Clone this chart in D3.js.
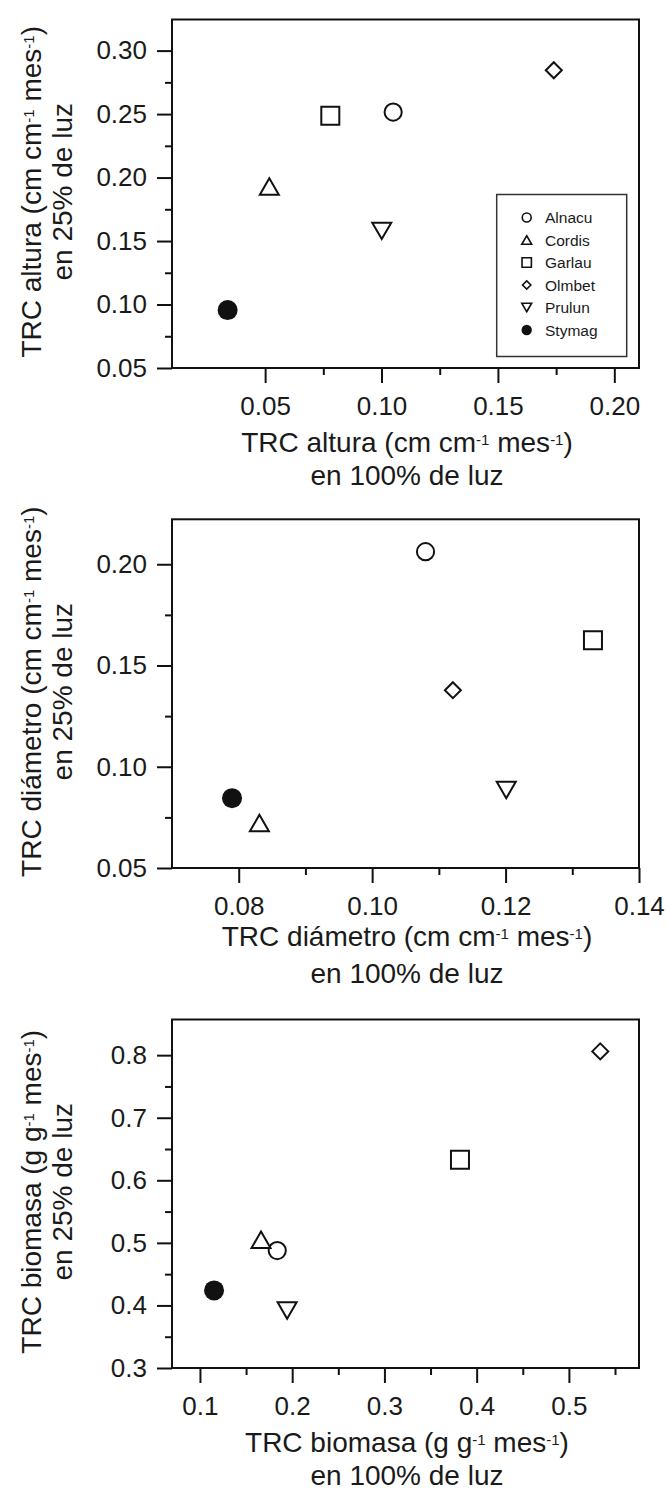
<!DOCTYPE html>
<html>
<head>
<meta charset="utf-8">
<script src="https://cdn.jsdelivr.net/npm/d3@7"></script>
<style>
html, body { margin: 0; padding: 0; background: #fff; }
svg text { font-family: "Liberation Sans", Arial, Helvetica, sans-serif; fill: #1a1a1a; white-space: pre; }
</style>
</head>
<body>
<svg id="chart" width="668" height="1492"></svg>
<script>
// ---------------- DATA ----------------
const species = ["Alnacu", "Cordis", "Garlau", "Olmbet", "Prulun", "Stymag"];

// Panel 1: TRC altura
const alturaX = [0.105, 0.0518, 0.078, 0.174, 0.1001, 0.0339];
const alturaY = [0.2516, 0.193, 0.2486, 0.2845, 0.158, 0.0956];
// Panel 2: TRC diámetro
const diamX = [0.108, 0.0831, 0.1331, 0.1121, 0.1201, 0.079];
const diamY = [0.2062, 0.0722, 0.1625, 0.1378, 0.0885, 0.0845];
// Panel 3: TRC biomasa
const bioX = [0.1838, 0.1662, 0.3819, 0.534, 0.1945, 0.1153];
const bioY = [0.4877, 0.505, 0.633, 0.806, 0.392, 0.424];

// Tick values
const p1XTicks = [0.05, 0.10, 0.15, 0.20];
const p1XMinor = [0.075, 0.125, 0.175];
const p1YTicks = [0.05, 0.10, 0.15, 0.20, 0.25, 0.30];
const p1YMinor = [0.075, 0.125, 0.175, 0.225, 0.275];
const p2XTicks = [0.08, 0.10, 0.12, 0.14];
const p2XMinor = [0.09, 0.11, 0.13];
const p2YTicks = [0.05, 0.10, 0.15, 0.20];
const p2YMinor = [0.075, 0.125, 0.175];
const p3XTicks = [0.1, 0.2, 0.3, 0.4, 0.5];
const p3XMinor = [0.15, 0.25, 0.35, 0.45, 0.55];
const p3YTicks = [0.3, 0.4, 0.5, 0.6, 0.7, 0.8];
const p3YMinor = [0.35, 0.45, 0.55, 0.65, 0.75];

// Axis titles ({...} = superscript)
const p1XTitle = ["TRC altura (cm cm{-1} mes{-1})", "en 100% de luz"];
const p1YTitle = ["TRC altura (cm cm{-1} mes{-1})", "en 25% de luz"];
const p2XTitle = ["TRC diámetro (cm cm{-1} mes{-1})", "en 100% de luz"];
const p2YTitle = ["TRC diámetro (cm cm{-1} mes{-1})", "en 25% de luz"];
const p3XTitle = ["TRC biomasa (g g{-1} mes{-1})", "en 100% de luz"];
const p3YTitle = ["TRC biomasa (g g{-1} mes{-1})", "en 25% de luz"];

// ---------------- STYLE / LAYOUT ----------------
const markerTypes = ["circle", "triangle", "square", "diamond", "triangleDown", "filled"];
const LEFT = 172, RIGHT = 639;
const INK = "#111";

const panels = [
  { top: 19.5, bottom: 368, xDom: [0.01, 0.2106], yDom: [0.05, 0.3245],
    xs: alturaX, ys: alturaY, xT: p1XTicks, xM: p1XMinor, yT: p1YTicks, yM: p1YMinor,
    fx: ".2f", fy: ".2f", xTitle: p1XTitle, yTitle: p1YTitle, tOff: [84, 117], legend: true },
  { top: 519.3, bottom: 868, xDom: [0.07, 0.14], yDom: [0.05, 0.2222],
    xs: diamX, ys: diamY, xT: p2XTicks, xM: p2XMinor, yT: p2YTicks, yM: p2YMinor,
    fx: ".2f", fy: ".2f", xTitle: p2XTitle, yTitle: p2YTitle, tOff: [78, 115], legend: false },
  { top: 1019.5, bottom: 1368, xDom: [0.0697, 0.576], yDom: [0.3, 0.857],
    xs: bioX, ys: bioY, xT: p3XTicks, xM: p3XMinor, yT: p3YTicks, yM: p3YMinor,
    fx: ".1f", fy: ".1f", xTitle: p3XTitle, yTitle: p3YTitle, tOff: [84, 117], legend: false }
];

const svg = d3.select("#chart");

function shapePath(type, k) {
  if (type === "circle" || type === "filled") {
    const r = (type === "filled" ? 10 : 8.6) * k;
    return `M${r},0A${r},${r},0,1,1,${-r},0A${r},${r},0,1,1,${r},0Z`;
  }
  if (type === "square") { const h = 9 * k; return `M${-h},${-h}H${h}V${h}H${-h}Z`; }
  if (type === "diamond") { const h = 8 * k; return `M0,${-h}L${h},0L0,${h}L${-h},0Z`; }
  const w = 9.5 * k, hh = 8.2 * k;
  if (type === "triangle") return `M0,${-hh}L${w},${hh}L${-w},${hh}Z`;
  return `M0,${hh}L${w},${-hh}L${-w},${-hh}Z`;
}

function richText(sel, str, supSize, raise) {
  const parts = str.split(/\{([^}]*)\}/);
  let pendingDown = 0;
  parts.forEach((p, i) => {
    if (p === "") return;
    const t = sel.append("tspan").text(p);
    if (i % 2 === 1) {
      t.attr("font-size", supSize).attr("dy", -raise);
      pendingDown = raise;
    } else if (pendingDown) {
      t.attr("dy", pendingDown);
      pendingDown = 0;
    }
  });
}

panels.forEach(P => {
  const x = d3.scaleLinear().domain(P.xDom).range([LEFT, RIGHT]);
  const y = d3.scaleLinear().domain(P.yDom).range([P.bottom, P.top]);
  const g = svg.append("g");

  // Major / minor X ticks
  const gx = g.append("g").attr("transform", `translate(0,${P.bottom})`)
    .call(d3.axisBottom(x).tickValues(P.xT).tickFormat(d3.format(P.fx))
      .tickSize(15).tickPadding(14).tickSizeOuter(0));
  const gxm = g.append("g").attr("transform", `translate(0,${P.bottom})`)
    .call(d3.axisBottom(x).tickValues(P.xM).tickFormat("").tickSize(7).tickSizeOuter(0));
  // Major / minor Y ticks
  const gy = g.append("g").attr("transform", `translate(${LEFT},0)`)
    .call(d3.axisLeft(y).tickValues(P.yT).tickFormat(d3.format(P.fy))
      .tickSize(15).tickPadding(10).tickSizeOuter(0));
  const gym = g.append("g").attr("transform", `translate(${LEFT},0)`)
    .call(d3.axisLeft(y).tickValues(P.yM).tickFormat("").tickSize(7).tickSizeOuter(0));

  [gx, gxm, gy, gym].forEach(a => {
    a.attr("font-family", null).attr("font-size", null);
    a.select(".domain").remove();
    a.selectAll("line").attr("stroke", INK).attr("stroke-width", 2);
    a.selectAll("text").attr("font-size", 26).attr("fill", "#1a1a1a");
  });

  // Markers
  const pts = species.map((s, i) => ({ s, t: markerTypes[i], x: P.xs[i], y: P.ys[i] }));
  g.append("g").selectAll("path").data(pts).join("path")
    .attr("transform", d => `translate(${x(d.x)},${y(d.y)})`)
    .attr("d", d => shapePath(d.t, 1))
    .attr("fill", d => d.t === "filled" ? INK : "#fff")
    .attr("stroke", INK)
    .attr("stroke-width", d => d.t === "filled" ? 0 : 2);

  // Frame
  g.append("rect").attr("x", LEFT).attr("y", P.top)
    .attr("width", RIGHT - LEFT).attr("height", P.bottom - P.top)
    .attr("fill", "none").attr("stroke", INK).attr("stroke-width", 2);

  // X title
  P.xTitle.forEach((line, i) => {
    const t = g.append("text").attr("x", 407).attr("y", P.bottom + P.tOff[i])
      .attr("text-anchor", "middle").attr("font-size", 28);
    richText(t, line, 15, 7);
  });
  // Y title
  const cy = (P.top + P.bottom) / 2 - 2;
  const yBase = [41, 72];
  P.yTitle.forEach((line, i) => {
    const t = g.append("text")
      .attr("transform", `translate(${yBase[i]},${cy}) rotate(-90)`)
      .attr("text-anchor", "middle").attr("font-size", 28);
    richText(t, line, 15, 7);
  });

  // Legend
  if (P.legend) {
    const lg = g.append("g");
    lg.append("rect").attr("x", 496.7).attr("y", 194.5).attr("width", 130).attr("height", 162)
      .attr("fill", "#fff").attr("stroke", "#333").attr("stroke-width", 1.5);
    const rowY = d3.scalePoint().domain(species).range([217.5, 330]);
    const rows = lg.selectAll("g.row").data(pts).join("g").attr("class", "row")
      .attr("transform", d => `translate(0,${rowY(d.s)})`);
    rows.append("path").attr("transform", "translate(526.7,0)")
      .attr("d", d => shapePath(d.t, 0.52))
      .attr("fill", d => d.t === "filled" ? INK : "#fff")
      .attr("stroke", INK).attr("stroke-width", d => d.t === "filled" ? 0 : 1.6);
    rows.append("text").attr("x", 545).attr("y", 5.6).attr("font-size", 15.5).text(d => d.s);
  }
});
</script>
</body>
</html>
